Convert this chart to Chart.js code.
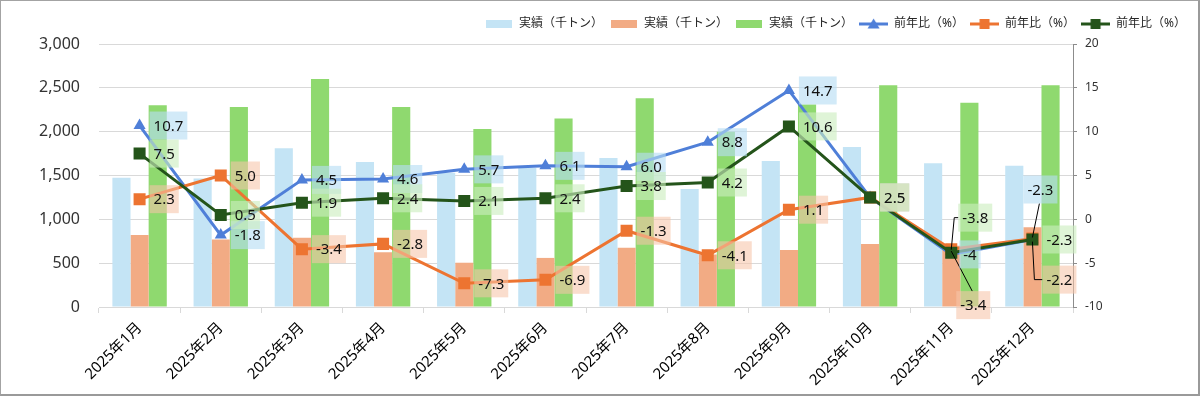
<!DOCTYPE html>
<html lang="ja">
<head>
<meta charset="utf-8">
<title>実績と前年比</title>
<script src="https://cdn.jsdelivr.net/npm/chart.js@4.4.1/dist/chart.umd.min.js"></script>
<style>
  html, body { margin: 0; padding: 0; background: #fff; }
  #wrap { position: relative; width: 1200px; height: 396px; }
  #wrap canvas { display: block; }
  #frame {
    position: absolute; left: 0; top: 0; right: 0; bottom: 0;
    border-top: 1px solid #a3a3a3; border-left: 1px solid #a3a3a3;
    border-right: 2px solid #9a9a9a; border-bottom: 2px solid #9a9a9a;
    pointer-events: none;
  }
</style>
</head>
<body>
<div id="wrap">
  <canvas id="chart" width="1200" height="396"></canvas>
  <div id="frame"></div>
</div>
<script>
// ---------------------------------------------------------------------------
// Data
// ---------------------------------------------------------------------------
const months = ['2025年1月', '2025年2月', '2025年3月', '2025年4月', '2025年5月', '2025年6月',
                '2025年7月', '2025年8月', '2025年9月', '2025年10月', '2025年11月', '2025年12月'];

// 実績（千トン） - three bar series
const actualBlue   = [1475, 1465, 1810, 1655, 1530, 1585, 1700, 1345, 1665, 1825, 1640, 1610];
const actualOrange = [820, 770, 790, 625, 505, 560, 675, 600, 650, 718, 700, 910];
const actualGreen  = [2300, 2280, 2600, 2280, 2030, 2150, 2380, 2000, 2310, 2530, 2330, 2530];

// 前年比（%） - kept as the label strings shown on the chart
const yoyBlue   = ['10.7', '-1.8', '4.5', '4.6', '5.7', '6.1', '6.0', '8.8', '14.7', '2.5', '-4', '-2.3'];
const yoyOrange = ['2.3', '5.0', '-3.4', '-2.8', '-7.3', '-6.9', '-1.3', '-4.1', '1.1', '2.5', '-3.4', '-2.2'];
const yoyGreen  = ['7.5', '0.5', '1.9', '2.4', '2.1', '2.4', '3.8', '4.2', '10.6', '2.5', '-3.8', '-2.3'];

const leftTicks  = { min: 0, max: 3000, step: 500 };
const rightTicks = { min: -10, max: 20, step: 5 };

// ---------------------------------------------------------------------------
// Styling
// ---------------------------------------------------------------------------
const FONT = "'Noto Sans', 'Noto Sans CJK JP', sans-serif";

const COLORS = {
  barBlue: '#c4e4f5',
  barOrange: '#f2ab84',
  barGreen: '#8fd96f',
  lineBlue: '#4f7fd8',
  lineOrange: '#ed7431',
  lineGreen: '#24541a',
  labelBlue: 'rgba(182, 221, 244, 0.62)',
  labelOrange: 'rgba(247, 196, 168, 0.58)',
  labelGreen: 'rgba(204, 238, 190, 0.62)',
  grid: '#d9d9d9'
};

// Label boxes sit right of their point unless moved here (offsets in px,
// leader lines are drawn from the point to the moved box)
const labelPlacement = {
  '0-10': { dx: 8, dy: 0 },
  '1-10': { dx: 5, dy: 56, leader: [[0, 2], [21, 42]] },
  '2-10': { dx: 7, dy: -35, leader: [[0, -3], [3, -35], [7, -35]] },
  '0-11': { dx: -9, dy: -50, leader: [[7, -36], [0, -2]] },
  '1-11': { dx: 10, dy: 41, leader: [[0, 3], [2, 41], [10, 41]] }
};

// ---------------------------------------------------------------------------
// Legend swatches (line with marker, flat box for bars)
// ---------------------------------------------------------------------------
function barSwatch(color) {
  const c = document.createElement('canvas');
  c.width = 26; c.height = 8;
  const g = c.getContext('2d');
  g.fillStyle = color;
  g.fillRect(0, 0, 26, 8);
  return c;
}

function lineSwatch(color, marker) {
  const c = document.createElement('canvas');
  c.width = 29; c.height = 12;
  const g = c.getContext('2d');
  g.strokeStyle = color;
  g.fillStyle = color;
  g.lineWidth = 3;
  g.beginPath();
  g.moveTo(0, 6); g.lineTo(29, 6);
  g.stroke();
  g.beginPath();
  if (marker === 'triangle') {
    g.moveTo(14.5, 0.5); g.lineTo(20.5, 10.5); g.lineTo(8.5, 10.5);
    g.closePath();
  } else {
    g.rect(9.5, 1, 10, 10);
  }
  g.fill();
  return c;
}

// ---------------------------------------------------------------------------
// Plugins
// ---------------------------------------------------------------------------
const legendHeight = {
  id: 'legendHeight',
  beforeLayout(chart) {
    const lg = chart.legend;
    if (lg && !lg._fixedHeight) {
      const fit = lg.fit;
      lg.fit = function () { fit.call(this); this.height = 32; };
      lg._fixedHeight = true;
    }
  }
};

const yoyLabels = {
  id: 'yoyLabels',
  afterDatasetsDraw(chart) {
    const ctx = chart.ctx;
    const series = [
      { values: yoyBlue, bg: COLORS.labelBlue, dataset: 3 },
      { values: yoyOrange, bg: COLORS.labelOrange, dataset: 4 },
      { values: yoyGreen, bg: COLORS.labelGreen, dataset: 5 }
    ];
    ctx.save();
    ctx.font = `15px ${FONT}`;
    ctx.textBaseline = 'middle';
    ctx.textAlign = 'left';

    // leader lines first
    ctx.strokeStyle = '#000';
    ctx.lineWidth = 1;
    series.forEach((s, si) => {
      const points = chart.getDatasetMeta(s.dataset).data;
      points.forEach((pt, i) => {
        const place = labelPlacement[`${si}-${i}`];
        if (!place || !place.leader) return;
        ctx.beginPath();
        place.leader.forEach(([lx, ly], k) => {
          if (k === 0) ctx.moveTo(pt.x + lx, pt.y + ly);
          else ctx.lineTo(pt.x + lx, pt.y + ly);
        });
        ctx.stroke();
      });
    });

    series.forEach((s, si) => {
      const points = chart.getDatasetMeta(s.dataset).data;
      points.forEach((pt, i) => {
        const text = s.values[i];
        const place = labelPlacement[`${si}-${i}`] || { dx: 10, dy: 0 };
        const w = ctx.measureText(text).width + 8;
        const h = 28;
        const x = pt.x + place.dx;
        const y = pt.y + place.dy;
        ctx.fillStyle = s.bg;
        ctx.fillRect(x, y - h / 2, w, h);
        ctx.fillStyle = '#111';
        ctx.fillText(text, x + 4, y + 1);
      });
    });
    ctx.restore();
  }
};

// ---------------------------------------------------------------------------
// Chart
// ---------------------------------------------------------------------------
function lineDataset(label, values, color, marker, order) {
  return {
    type: 'line',
    label: label,
    data: values.map(Number),
    yAxisID: 'y1',
    borderColor: color,
    backgroundColor: color,
    borderWidth: 3,
    pointStyle: marker === 'triangle' ? 'triangle' : 'rect',
    pointRadius: marker === 'triangle' ? 7 : 8.5,
    pointBackgroundColor: color,
    pointBorderWidth: 0,
    tension: 0,
    order: order,
    legendIcon: lineSwatch(color, marker)
  };
}

function barDataset(label, values, color, order) {
  return {
    type: 'bar',
    label: label,
    data: values,
    yAxisID: 'y',
    backgroundColor: color,
    borderWidth: 0,
    barPercentage: 1.0,
    categoryPercentage: 0.67,
    order: order,
    legendIcon: barSwatch(color)
  };
}

new Chart(document.getElementById('chart').getContext('2d'), {
  data: {
    labels: months,
    datasets: [
      barDataset('実績（千トン）', actualBlue, COLORS.barBlue, 3),
      barDataset('実績（千トン）', actualOrange, COLORS.barOrange, 4),
      barDataset('実績（千トン）', actualGreen, COLORS.barGreen, 5),
      lineDataset('前年比（%）', yoyBlue, COLORS.lineBlue, 'triangle', 2),
      lineDataset('前年比（%）', yoyOrange, COLORS.lineOrange, 'square', 1),
      lineDataset('前年比（%）', yoyGreen, COLORS.lineGreen, 'square', 0)
    ]
  },
  options: {
    responsive: false,
    animation: false,
    layout: { padding: { top: 12, right: 8, left: 0, bottom: 0 } },
    plugins: {
      tooltip: { enabled: false },
      legend: {
        position: 'top',
        align: 'end',
        labels: {
          usePointStyle: true,
          pointStyleWidth: 29,
          boxHeight: 12,
          padding: 6,
          color: '#262626',
          font: { size: 12, family: FONT },
          generateLabels(chart) {
            return chart.data.datasets.map((ds, i) => ({
              text: ds.label,
              pointStyle: ds.legendIcon,
              fontColor: '#262626',
              fillStyle: 'transparent',
              strokeStyle: 'transparent',
              lineWidth: 0,
              hidden: false,
              datasetIndex: i
            }));
          }
        }
      }
    },
    scales: {
      x: {
        offset: true,
        grid: { offset: true, drawOnChartArea: false, color: COLORS.grid, tickLength: 6 },
        border: { color: COLORS.grid },
        ticks: {
          autoSkip: false,
          minRotation: 45,
          maxRotation: 45,
          padding: 6,
          color: '#000',
          font: { size: 15, family: FONT }
        },
        afterFit(scale) { scale.height = 89; }
      },
      y: {
        position: 'left',
        min: leftTicks.min,
        max: leftTicks.max,
        grid: { color: COLORS.grid, drawTicks: false },
        border: { display: false },
        ticks: {
          stepSize: leftTicks.step,
          padding: 19,
          color: '#333',
          font: { size: 16, family: FONT },
          callback: v => v.toLocaleString('en-US')
        },
        afterFit(scale) { scale.width = 99; }
      },
      y1: {
        position: 'right',
        min: rightTicks.min,
        max: rightTicks.max,
        grid: { drawOnChartArea: false, color: '#8c8c8c', tickLength: 4 },
        border: { color: '#8c8c8c' },
        ticks: {
          stepSize: rightTicks.step,
          padding: 8,
          color: '#333',
          font: { size: 12, family: FONT }
        },
        afterFit(scale) { scale.width = 119; }
      }
    }
  },
  plugins: [legendHeight, yoyLabels]
});
</script>
</body>
</html>
